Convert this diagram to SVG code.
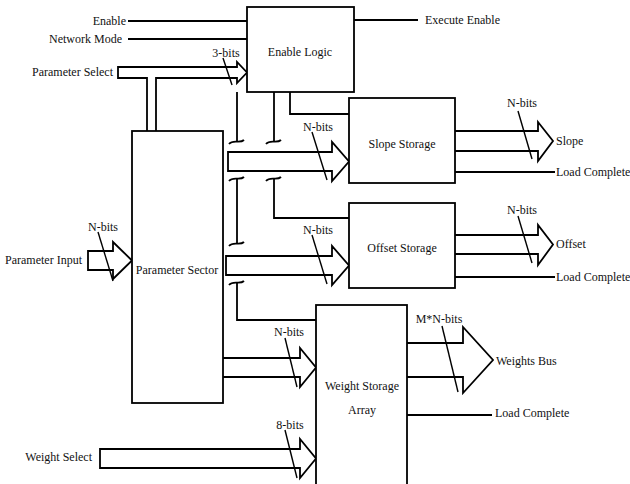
<svg xmlns="http://www.w3.org/2000/svg" width="630" height="484" viewBox="0 0 630 484">
<style>
.box{fill:#fff;stroke:#000;stroke-width:1.8}
.ln{fill:none;stroke:#000;stroke-width:1.8}
.bus{fill:#fff;stroke:#000;stroke-width:1.8;stroke-linejoin:miter}
.sl{fill:none;stroke:#000;stroke-width:1.4}
text{font-family:"Liberation Serif","Times New Roman",serif;font-size:12px;fill:#111}
.m{text-anchor:middle}
.e{text-anchor:end}
</style>
<rect width="630" height="484" fill="#fff"/>
<g id="connectors">
  <!-- control lines -->
  <path class="ln" d="M128,21 H247"/>
  <path class="ln" d="M128,39 H247"/>
  <path class="ln" d="M354,20 H418"/>
  <path class="ln" d="M290,92 V114 H349"/>
  <path class="ln" d="M274,92 V142"/>
  <path class="ln" d="M274,179 V218 H349"/>
  <path class="ln" d="M237,92 V142"/>
  <path class="ln" d="M237,179 V244"/>
  <path class="ln" d="M237,283 V320 H316"/>
  <path class="ln" d="M455,172 H555"/>
  <path class="ln" d="M455,277 H555"/>
  <path class="ln" d="M407,415 H492"/>
  <!-- crossover ticks -->
  <path class="ln" d="M229,144 C233,139 240,144 244,140"/>
  <path class="ln" d="M229,181 C233,176 240,181 244,177"/>
  <path class="ln" d="M266,144 C270,139 277,144 281,140"/>
  <path class="ln" d="M266,181 C270,176 277,181 281,177"/>
  <path class="ln" d="M229,246 C233,241 240,246 244,242"/>
  <path class="ln" d="M229,285 C233,280 240,285 244,281"/>
  <!-- buses -->
  <path class="bus" d="M147,131 V78 H118 V67 H237 V62 L247,72.5 L237,83 V78 H156 V131"/>
  <path class="bus" d="M228,152 H332 V142 L349,161.5 L332,181 V171 H228 Z"/>
  <path class="bus" d="M226,256 H332 V246 L349,265.5 L332,285 V275 H226 Z"/>
  <path class="bus" d="M88,251 H113 V242 L132,260.5 L113,279 V270 H88 Z"/>
  <path class="bus" d="M223,358 H300 V348 L316,367.5 L300,387 V377 H223"/>
  <path class="bus" d="M100,449 H300 V439 L316,458.5 L300,478 V468 H100 Z"/>
  <path class="bus" d="M455,131 H538 V122 L553,141 L538,161 V151 H455"/>
  <path class="bus" d="M455,235 H538 V225 L553,244.5 L538,265 V254 H455"/>
  <path class="bus" d="M407,343 H463 V327 L493,360 L463,393 V377 H407"/>
  <!-- bit-width slashes -->
  <path class="sl" d="M223,58 L232,85"/>
  <path class="sl" d="M312,132 L327,180"/>
  <path class="sl" d="M312,235 L327,284"/>
  <path class="sl" d="M98,232 L113,281"/>
  <path class="sl" d="M285,338 L297,387"/>
  <path class="sl" d="M285,430 L297,478"/>
  <path class="sl" d="M518,111 L532,159"/>
  <path class="sl" d="M518,216 L532,263"/>
  <path class="sl" d="M442,326 L458,392"/>
  <!-- labels -->
  <text class="e" x="126" y="25">Enable</text>
  <text class="e" x="122" y="43">Network Mode</text>
  <text class="e" x="113" y="76">Parameter Select</text>
  <text class="m" x="226" y="57">3-bits</text>
  <text x="425" y="24">Execute Enable</text>
  <text class="m" x="318" y="131">N-bits</text>
  <text class="m" x="522" y="107">N-bits</text>
  <text x="556" y="145">Slope</text>
  <text x="556" y="176">Load Complete</text>
  <text class="m" x="318" y="234">N-bits</text>
  <text class="m" x="522" y="214">N-bits</text>
  <text x="556" y="248">Offset</text>
  <text x="556" y="281">Load Complete</text>
  <text class="e" x="82" y="264">Parameter Input</text>
  <text class="m" x="103" y="231">N-bits</text>
  <text class="m" x="289" y="336">N-bits</text>
  <text class="m" x="439" y="323">M*N-bits</text>
  <text x="496" y="365">Weights Bus</text>
  <text x="495" y="417">Load Complete</text>
  <text class="m" x="290" y="429">8-bits</text>
  <text class="e" x="92" y="461">Weight Select</text>
</g>
<g id="enable-logic">
  <rect class="box" x="247" y="7" width="107" height="85"/>
  <text class="m" x="300" y="56">Enable Logic</text>
</g>
<g id="parameter-sector">
  <rect class="box" x="132" y="131" width="91" height="272"/>
  <text class="m" x="177" y="274">Parameter Sector</text>
</g>
<g id="slope-storage">
  <rect class="box" x="349" y="98" width="106" height="85"/>
  <text class="m" x="402" y="148">Slope Storage</text>
</g>
<g id="offset-storage">
  <rect class="box" x="349" y="203" width="106" height="85"/>
  <text class="m" x="402" y="252">Offset Storage</text>
</g>
<g id="weight-storage-array">
  <rect class="box" x="316" y="305" width="91" height="185"/>
  <text class="m" x="362" y="390">Weight Storage</text>
  <text class="m" x="362" y="414">Array</text>
</g>
</svg>
